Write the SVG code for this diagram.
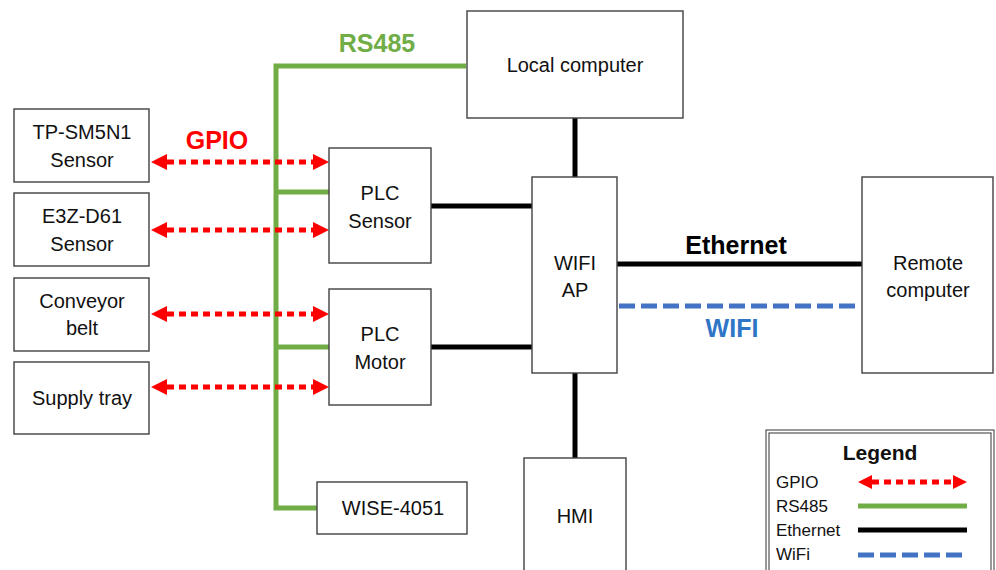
<svg xmlns="http://www.w3.org/2000/svg" width="996" height="570" viewBox="0 0 996 570">
<defs>
<style>
.box{fill:#fff;stroke:#404040;stroke-width:1.4}
.t{font-family:"Liberation Sans",Arial,sans-serif;font-size:20px;fill:#111;text-anchor:middle}
.lt{font-family:"Liberation Sans",Arial,sans-serif;font-size:17px;fill:#111}
.lbl{font-family:"Liberation Sans",Arial,sans-serif;font-size:25px;font-weight:bold;text-anchor:middle}
.rs{fill:none;stroke:#70AD47;stroke-width:5}
.eth{fill:none;stroke:#000;stroke-width:5}
.wifi{fill:none;stroke:#4472C4;stroke-width:5;stroke-dasharray:16 6}
.gpio{fill:none;stroke:#FF0000;stroke-width:5;stroke-dasharray:7 5}
</style>
<marker id="ah" viewBox="0 0 10 10" refX="0" refY="5" markerWidth="17" markerHeight="16" markerUnits="userSpaceOnUse" orient="auto-start-reverse">
<path d="M0,0 L10,5 L0,10 Z" fill="#FF0000"/>
</marker>
<marker id="ahs" viewBox="0 0 10 10" refX="0" refY="5" markerWidth="14" markerHeight="14" markerUnits="userSpaceOnUse" orient="auto-start-reverse">
<path d="M0,0 L10,5 L0,10 Z" fill="#FF0000"/>
</marker>
</defs>
<rect width="996" height="570" fill="#fff"/>

<g id="connectors">
<path class="rs" d="M466,66 H276 V508 H317"/>
<path class="rs" d="M276,192 H329"/>
<path class="rs" d="M276,347 H329"/>
<path class="eth" d="M575,118 V177"/>
<path class="eth" d="M431,206 H532"/>
<path class="eth" d="M431,347 H532"/>
<path class="eth" d="M575,373 V458"/>
<path class="eth" d="M617,264 H862"/>
<path class="wifi" d="M619,306 H857"/>
<path class="gpio" d="M167,162 H313" marker-start="url(#ah)" marker-end="url(#ah)"/>
<path class="gpio" d="M167,230 H313" marker-start="url(#ah)" marker-end="url(#ah)"/>
<path class="gpio" d="M167,314 H313" marker-start="url(#ah)" marker-end="url(#ah)"/>
<path class="gpio" d="M167,387 H313" marker-start="url(#ah)" marker-end="url(#ah)"/>
<text class="lbl" x="377" y="52" fill="#70AD47">RS485</text>
<text class="lbl" x="217" y="149" fill="#FF0000">GPIO</text>
<text class="lbl" x="736" y="254" fill="#000">Ethernet</text>
<text class="lbl" x="732" y="337" fill="#2E75C6">WIFI</text>
</g>

<g id="tp-sm5n1"><rect class="box" x="14" y="109" width="135" height="73"/><text class="t" x="82" y="139">TP-SM5N1</text><text class="t" x="82" y="167">Sensor</text></g>
<g id="e3z-d61"><rect class="box" x="14" y="193" width="135" height="73"/><text class="t" x="82" y="223">E3Z-D61</text><text class="t" x="82" y="251">Sensor</text></g>
<g id="conveyor"><rect class="box" x="14" y="278" width="135" height="73"/><text class="t" x="82" y="308">Conveyor</text><text class="t" x="82" y="335">belt</text></g>
<g id="supply-tray"><rect class="box" x="14" y="362" width="135" height="72"/><text class="t" x="82" y="405">Supply tray</text></g>
<g id="plc-sensor"><rect class="box" x="329" y="148" width="102" height="115"/><text class="t" x="380" y="200">PLC</text><text class="t" x="380" y="228">Sensor</text></g>
<g id="plc-motor"><rect class="box" x="329" y="289" width="102" height="116"/><text class="t" x="380" y="341">PLC</text><text class="t" x="380" y="369">Motor</text></g>
<g id="wise-4051"><rect class="box" x="317" y="482" width="150" height="52"/><text class="t" x="393" y="515">WISE-4051</text></g>
<g id="local-computer"><rect class="box" x="467" y="11" width="216" height="107"/><text class="t" x="575" y="72">Local computer</text></g>
<g id="wifi-ap"><rect class="box" x="532" y="177" width="85" height="196"/><text class="t" x="575" y="270">WIFI</text><text class="t" x="575" y="297">AP</text></g>
<g id="hmi"><rect class="box" x="524" y="458" width="102" height="120"/><text class="t" x="575" y="523">HMI</text></g>
<g id="remote-computer"><rect class="box" x="862" y="177" width="131" height="196"/><text class="t" x="928" y="270">Remote</text><text class="t" x="928" y="297">computer</text></g>

<g id="legend">
<rect x="766" y="430" width="228" height="150" fill="#fff" stroke="#555" stroke-width="1.2"/>
<rect x="769" y="433" width="222" height="150" fill="none" stroke="#555" stroke-width="1.2"/>
<text x="880" y="460" font-family="Liberation Sans, Arial, sans-serif" font-size="21" font-weight="bold" text-anchor="middle" fill="#111">Legend</text>
<text class="lt" x="776" y="488">GPIO</text>
<text class="lt" x="776" y="512">RS485</text>
<text class="lt" x="776" y="536">Ethernet</text>
<text class="lt" x="776" y="560">WiFi</text>
<path class="gpio" d="M872,482 H953" stroke-width="4" marker-start="url(#ahs)" marker-end="url(#ahs)"/>
<path class="rs" d="M858,506 H967"/>
<path class="eth" d="M858,530 H967"/>
<path class="wifi" d="M858,555 H967"/>
</g>
</svg>
